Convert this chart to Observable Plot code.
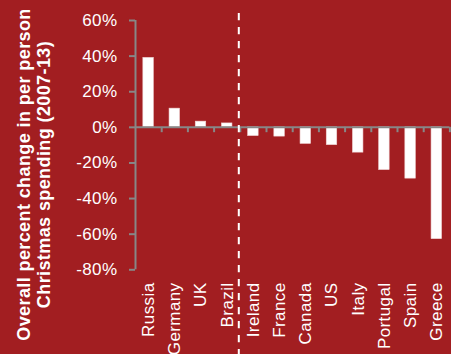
<!DOCTYPE html>
<html>
<head>
<meta charset="utf-8">
<script src="https://cdn.jsdelivr.net/npm/d3@7"></script>
<script src="https://cdn.jsdelivr.net/npm/@observablehq/plot@0.6"></script>
<style>
  html, body { margin: 0; padding: 0; background: #a21e21; }
  #chart svg { display: block; }
</style>
</head>
<body>
<div id="chart"></div>
<script>
// Data
const countries = ["Russia", "Germany", "UK", "Brazil", "Ireland", "France", "Canada", "US", "Italy", "Portugal", "Spain", "Greece"];
const changes = [39, 10.5, 3.2, 2.2, -4.9, -5.2, -9.3, -10, -14.2, -24, -28.8, -62.8];
const yTicks = [-80, -60, -40, -20, 0, 20, 40, 60];
const titleText = "Overall percent change in per person\nChristmas spending (2007-13)";
const dividerAfter = 4; // dashed divider before "Ireland"

const data = countries.map((c, i) => ({country: c, i, value: changes[i]}));
const barPad = 0.3;
const grey = "#878787";

const chart = Plot.plot({
  width: 451,
  height: 354,
  marginLeft: 135,
  marginRight: 1.6,
  marginTop: 20,
  marginBottom: 84.7,
  style: {background: "#a21e21", color: "white", fontFamily: "'Liberation Sans', Arial, sans-serif", fontSize: "17px", letterSpacing: "0.4px"},
  x: {type: "linear", domain: [0, countries.length]},
  y: {domain: [-80, 60]},
  marks: [
    Plot.rectY(data, {x1: d => d.i + barPad, x2: d => d.i + 1 - barPad, y1: 0, y2: "value", fill: "white", stroke: "#f1d6d6", strokeWidth: 0.6}),
    Plot.ruleY([0], {stroke: grey, strokeWidth: 2}),
    Plot.ruleX(d3.range(1, countries.length + 1), {y1: 0, y2: -3, stroke: grey, strokeWidth: 2}),
    Plot.ruleX([0], {y1: -80, y2: 60, stroke: grey, strokeWidth: 2}),
    Plot.ruleX([dividerAfter], {y1: 64, y2: -130, dx: -1.5, stroke: "white", strokeWidth: 2, strokeDasharray: "7.3,6.7"}),
    Plot.axisY({ticks: yTicks, tickFormat: d => d + "%", tickSize: 6, tickPadding: 12, stroke: grey, strokeWidth: 2, fill: "white", fontSize: 17, label: null}),
    Plot.axisX({ticks: countries.map((c, i) => i + 0.5), tickFormat: d => countries[Math.floor(d)], tickSize: 0, tickPadding: 12.7, rotate: -90, textAnchor: "end", lineAnchor: "middle", fill: "white", fontSize: 17, label: null}),
    Plot.text([titleText], {frameAnchor: "top-left", text: d => d, rotate: -90, textAnchor: "middle", lineAnchor: "top", lineHeight: 1.08, dx: -119, dy: 154, fill: "white", fontSize: 18, fontWeight: "bold"})
  ]
});
document.getElementById("chart").appendChild(chart);
</script>
</body>
</html>
